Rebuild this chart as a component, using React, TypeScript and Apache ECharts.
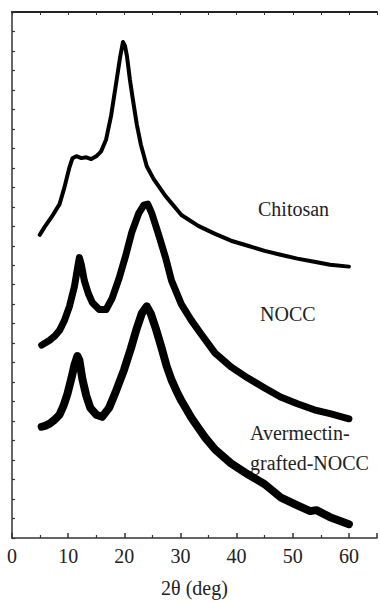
import React, { useEffect, useRef } from "react";
import * as echarts from "echarts";

const xTicks = [0, 10, 20, 30, 40, 50, 60];

const chitosanX = [4.94, 5.82, 7.06, 8.47, 9.35, 10.23, 10.76, 11.47, 12.35, 13.23, 14.12, 15.0, 15.88, 16.76, 17.65, 18.53, 19.23, 19.76, 20.12, 20.47, 21.0, 21.53, 22.23, 22.94, 24.0, 25.23, 27.35, 30.17, 33.17, 36.17, 39.0, 42.0, 45.0, 47.82, 50.82, 53.82, 56.64, 60.0];
const chitosanY = [15.56, 15.97, 16.48, 17.14, 18.01, 19.03, 19.49, 19.6, 19.5, 19.54, 19.45, 19.59, 19.85, 20.46, 21.68, 23.32, 24.64, 25.46, 25.26, 24.74, 23.52, 22.5, 21.22, 20.2, 19.08, 18.42, 17.55, 16.58, 16.02, 15.61, 15.26, 15.0, 14.74, 14.54, 14.34, 14.18, 14.03, 13.93];

const noccX = [5.29, 6.71, 7.59, 8.47, 9.35, 10.23, 11.12, 11.65, 12.0, 12.35, 12.88, 13.59, 14.29, 15.53, 16.76, 17.82, 19.06, 20.29, 21.35, 22.59, 23.47, 24.18, 24.88, 26.12, 27.35, 28.41, 30.17, 31.94, 33.7, 36.17, 39.0, 42.0, 45.0, 47.82, 50.82, 53.82, 56.64, 60.0];
const noccY = [9.9, 10.15, 10.36, 10.66, 11.17, 11.89, 12.91, 13.83, 14.39, 14.03, 13.21, 12.55, 12.09, 11.73, 11.73, 12.3, 13.32, 14.54, 15.71, 16.68, 17.09, 17.14, 16.68, 15.56, 14.39, 13.21, 11.99, 11.17, 10.46, 9.49, 8.78, 8.21, 7.7, 7.24, 6.89, 6.58, 6.38, 6.12];

const avermectinX = [5.29, 6.0, 6.71, 7.59, 8.47, 9.18, 9.88, 10.59, 11.12, 11.65, 12.0, 12.53, 13.23, 13.94, 15.0, 16.06, 17.29, 18.53, 19.94, 21.18, 22.23, 23.12, 24.0, 24.7, 25.59, 26.65, 27.53, 28.41, 29.29, 30.17, 31.94, 33.17, 34.41, 36.17, 39.0, 42.0, 45.0, 47.82, 50.82, 53.1, 54.2, 56.64, 60.0];
const avermectinY = [5.71, 5.77, 5.87, 6.07, 6.33, 6.79, 7.4, 8.21, 8.88, 9.34, 9.13, 8.16, 7.3, 6.68, 6.33, 6.22, 6.68, 7.55, 8.62, 9.74, 10.77, 11.53, 11.89, 11.53, 10.77, 9.74, 8.83, 8.11, 7.55, 7.04, 6.17, 5.66, 5.15, 4.54, 3.83, 3.27, 2.76, 2.09, 1.68, 1.38, 1.43, 1.07, 0.71];

const seriesNames = ["Chitosan", "NOCC", "Avermectin-grafted-NOCC"];

const FONT = "'Liberation Serif', 'DejaVu Serif', serif";

function pairs(xs: number[], ys: number[]) {
  return xs.map((x, i) => [x, ys[i]]);
}

export default function App() {
  const ref = useRef<HTMLDivElement>(null);
  useEffect(() => {
    if (!ref.current) return;
    const chart = echarts.init(ref.current, null, { renderer: "svg" });
    const axisLine = { show: true, lineStyle: { color: "#333", width: 1.5 } };
    chart.setOption({
      animation: false,
      grid: { left: 12, right: 0, top: 12, bottom: 62, containLabel: false },
      xAxis: [
        {
          type: "value",
          min: 0,
          max: 65,
          interval: 10,
          position: "bottom",
          name: "2θ (deg)",
          nameLocation: "middle",
          nameGap: 40,
          nameTextStyle: { fontFamily: FONT, fontSize: 20, color: "#222" },
          axisLine,
          axisTick: { show: true, inside: true, length: 5, lineStyle: { color: "#333", width: 1.5 } },
          minorTick: { show: true, splitNumber: 2, length: 3, lineStyle: { color: "#333", width: 1.2 } },
          axisLabel: {
            fontFamily: FONT,
            fontSize: 20,
            color: "#222",
            margin: 8,
            formatter: (v: number) => (xTicks.includes(v) ? String(v) : ""),
          },
          splitLine: { show: false },
        },
        {
          type: "value",
          min: 0,
          max: 65,
          interval: 5,
          position: "top",
          axisLine: { show: true, lineStyle: { color: "#222", width: 2 } },
          axisTick: { show: true, inside: true, length: 3, lineStyle: { color: "#333", width: 1 } },
          axisLabel: { show: false },
          splitLine: { show: false },
        },
      ],
      yAxis: {
        type: "value",
        min: 0,
        max: 27,
        interval: 1,
        axisLine,
        axisTick: { show: true, inside: true, length: 3, lineStyle: { color: "#333", width: 1.2 } },
        axisLabel: { show: false },
        splitLine: { show: false },
      },
      series: [
        {
          name: seriesNames[0],
          type: "line",
          showSymbol: false,
          data: pairs(chitosanX, chitosanY),
          lineStyle: { color: "#000", width: 4, join: "round", cap: "round" },
        },
        {
          name: seriesNames[1],
          type: "line",
          showSymbol: false,
          data: pairs(noccX, noccY),
          lineStyle: { color: "#000", width: 7, join: "round", cap: "round" },
        },
        {
          name: seriesNames[2],
          type: "line",
          showSymbol: false,
          data: pairs(avermectinX, avermectinY),
          lineStyle: { color: "#000", width: 8, join: "round", cap: "round" },
        },
      ],
      graphic: [
        {
          type: "text",
          left: 258,
          top: 199,
          style: { text: "Chitosan", font: `20px ${FONT}`, fill: "#222" },
        },
        {
          type: "text",
          left: 260,
          top: 304,
          style: { text: "NOCC", font: `20px ${FONT}`, fill: "#222" },
        },
        {
          type: "text",
          left: 250,
          top: 418,
          style: { text: "Avermectin-\ngrafted-NOCC", font: `20px ${FONT}`, fill: "#222", lineHeight: 30 },
        },
      ],
    });
    return () => chart.dispose();
  }, []);
  return <div ref={ref} style={{ width: 380, height: 603, position: "absolute", left: 0, top: 0 }} />;
}
